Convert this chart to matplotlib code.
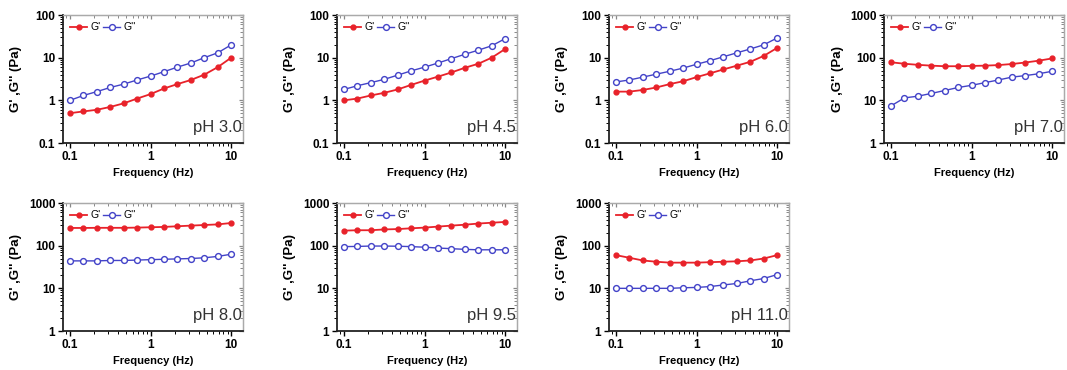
import matplotlib
matplotlib.use("Agg")
import matplotlib.pyplot as plt
from matplotlib.ticker import LogLocator, FuncFormatter, NullFormatter

plt.rcParams['font.family'] = ['Liberation Sans', 'DejaVu Sans']

freq = [0.1, 0.147, 0.215, 0.316, 0.464, 0.681, 1.0, 1.47, 2.15, 3.16, 4.64, 6.81, 10.0]

ph_labels = ["pH 3.0", "pH 4.5", "pH 6.0", "pH 7.0", "pH 8.0", "pH 9.5", "pH 11.0"]

g1_ph30 = [0.5, 0.55, 0.6, 0.7, 0.85, 1.1, 1.4, 1.9, 2.4, 3.0, 4.0, 6.0, 10.0]
g2_ph30 = [1.0, 1.3, 1.6, 2.0, 2.4, 3.0, 3.7, 4.7, 6.0, 7.5, 10.0, 13.0, 20.0]

g1_ph45 = [1.0, 1.1, 1.3, 1.5, 1.8, 2.3, 2.9, 3.6, 4.5, 5.8, 7.2, 10.0, 16.0]
g2_ph45 = [1.8, 2.2, 2.6, 3.1, 3.9, 4.9, 6.0, 7.5, 9.5, 12.0, 15.0, 19.0, 28.0]

g1_ph60 = [1.6, 1.6, 1.75, 2.0, 2.4, 2.8, 3.5, 4.3, 5.3, 6.5, 8.0, 11.0, 17.0]
g2_ph60 = [2.7, 3.0, 3.5, 4.1, 4.8, 5.7, 7.0, 8.5, 10.5, 13.0, 16.0, 20.0, 29.0]

g1_ph70 = [78, 72, 68, 65, 63, 63, 64, 65, 67, 71, 77, 85, 96]
g2_ph70 = [7.4, 11.4, 12.5, 14.5, 17.0, 20.0, 22.5, 26.0, 30.0, 35.0, 38.0, 42.0, 48.0]

g1_ph80 = [260, 260, 262, 262, 262, 265, 270, 275, 285, 295, 305, 315, 340]
g2_ph80 = [44, 44, 44, 45, 45, 46, 47, 48, 49, 50, 52, 56, 63]

g1_ph95 = [225, 230, 230, 240, 245, 255, 265, 280, 295, 310, 330, 345, 360]
g2_ph95 = [95, 96, 98, 98, 97, 95, 92, 88, 85, 82, 80, 80, 80]

g1_ph110 = [60, 52, 45, 42, 40, 40, 40, 41, 42, 43, 45, 50, 60]
g2_ph110 = [10, 10, 10, 10, 10, 10.3, 10.5, 11, 12, 13, 15, 17, 21]

series_gp = [g1_ph30, g1_ph45, g1_ph60, g1_ph70, g1_ph80, g1_ph95, g1_ph110]
series_gpp = [g2_ph30, g2_ph45, g2_ph60, g2_ph70, g2_ph80, g2_ph95, g2_ph110]
ylims = [(0.1, 100), (0.1, 100), (0.1, 100), (1, 1000), (1, 1000), (1, 1000), (1, 1000)]

W, H = 1067, 370
fig = plt.figure(figsize=(W / 100, H / 100), dpi=100)

lefts = [63, 337, 609, 884]
tops = [15, 203]
aw, ah = 180, 128

red = '#e8222a'
blue = '#4343c8'

fmt = FuncFormatter(lambda v, p: '%g' % v)

for i in range(7):
    r, c = divmod(i, 4)
    l = lefts[c]
    t = tops[r]
    ax = fig.add_axes([l / W, 1 - (t + ah) / H, aw / W, ah / H])
    ax.set_xscale('log')
    ax.set_yscale('log')
    ax.plot(freq, series_gp[i], '-o', color=red, lw=1.3, ms=3.5,
            mfc=red, mec=red, label="G'")
    ax.plot(freq, series_gpp[i], '-o', color=blue, lw=1.0, ms=4.2,
            mfc='white', mec=blue, mew=1.0, label="G''")
    ax.set_xlim(0.082, 14)
    ax.set_ylim(*ylims[i])
    for axis in (ax.xaxis, ax.yaxis):
        axis.set_major_locator(LogLocator(base=10, numticks=10))
        axis.set_minor_locator(LogLocator(base=10, subs=range(2, 10), numticks=10))
        axis.set_major_formatter(fmt)
        axis.set_minor_formatter(NullFormatter())
    ax.tick_params(which='major', direction='out', length=3.5, width=1.0,
                   labelsize=8.5, pad=2)
    ax.tick_params(which='minor', direction='out', length=2, width=0.7)
    for lab in ax.get_xticklabels() + ax.get_yticklabels():
        lab.set_fontweight('bold')
    for s in ['left', 'bottom']:
        ax.spines[s].set_linewidth(1.3)
        ax.spines[s].set_color('#222222')
    for s in ['top', 'right']:
        ax.spines[s].set_linewidth(1.0)
        ax.spines[s].set_color('#aaaaaa')
    # inward ticks on the top and right frame
    sx = ax.secondary_xaxis('top')
    sx.set_xscale('log')
    sx.xaxis.set_major_locator(LogLocator(base=10, numticks=10))
    sx.xaxis.set_minor_locator(LogLocator(base=10, subs=range(2, 10), numticks=10))
    sx.tick_params(which='both', direction='in', labeltop=False, color='#888888')
    sx.tick_params(which='major', length=3, width=0.9)
    sx.tick_params(which='minor', length=2, width=0.7)
    sx.spines['top'].set_color('#aaaaaa')
    sy = ax.secondary_yaxis('right')
    sy.set_yscale('log')
    sy.yaxis.set_major_locator(LogLocator(base=10, numticks=10))
    sy.yaxis.set_minor_locator(LogLocator(base=10, subs=range(2, 10), numticks=10))
    sy.tick_params(which='both', direction='in', labelright=False, color='#888888')
    sy.tick_params(which='major', length=3, width=0.9)
    sy.tick_params(which='minor', length=2, width=0.7)
    sy.spines['right'].set_color('#aaaaaa')

    ax.set_xlabel('Frequency (Hz)', fontsize=8, fontweight='bold', labelpad=4)
    ax.set_ylabel("G' ,G'' (Pa)", fontsize=9.5, fontweight='bold')
    ax.yaxis.set_label_coords(-0.225, 0.5)
    ax.text(0.995, 0.06, ph_labels[i], transform=ax.transAxes, ha='right',
            va='bottom', fontsize=12, color='#333333')
    leg = ax.legend(loc='upper left', ncol=2, frameon=False, fontsize=7.5,
                    handlelength=1.6, handletextpad=0.3, columnspacing=0.3,
                    borderaxespad=0.3, bbox_to_anchor=(0.0, 1.0))

fig.savefig('out.png', dpi=100)
